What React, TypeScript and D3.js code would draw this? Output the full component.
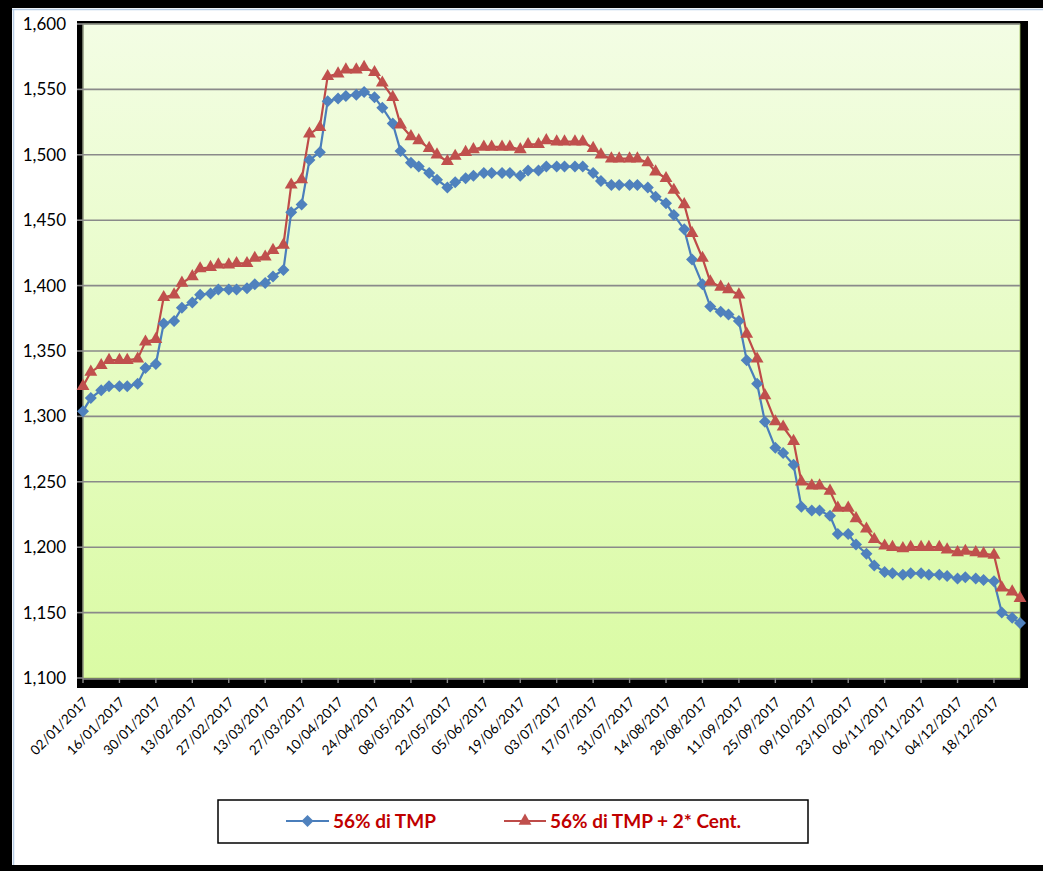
import React from 'react';
import * as d3 from 'd3';

// Mondays and Thursdays of 2017
const dates = [
  '02/01/2017', '05/01/2017', '09/01/2017', '12/01/2017', '16/01/2017', '19/01/2017', '23/01/2017', '26/01/2017', '30/01/2017',
  '02/02/2017', '06/02/2017', '09/02/2017', '13/02/2017', '16/02/2017', '20/02/2017', '23/02/2017', '27/02/2017',
  '02/03/2017', '06/03/2017', '09/03/2017', '13/03/2017', '16/03/2017', '20/03/2017', '23/03/2017', '27/03/2017', '30/03/2017',
  '03/04/2017', '06/04/2017', '10/04/2017', '13/04/2017', '17/04/2017', '20/04/2017', '24/04/2017', '27/04/2017',
  '01/05/2017', '04/05/2017', '08/05/2017', '11/05/2017', '15/05/2017', '18/05/2017', '22/05/2017', '25/05/2017', '29/05/2017',
  '01/06/2017', '05/06/2017', '08/06/2017', '12/06/2017', '15/06/2017', '19/06/2017', '22/06/2017', '26/06/2017', '29/06/2017',
  '03/07/2017', '06/07/2017', '10/07/2017', '13/07/2017', '17/07/2017', '20/07/2017', '24/07/2017', '27/07/2017', '31/07/2017',
  '03/08/2017', '07/08/2017', '10/08/2017', '14/08/2017', '17/08/2017', '21/08/2017', '24/08/2017', '28/08/2017', '31/08/2017',
  '04/09/2017', '07/09/2017', '11/09/2017', '14/09/2017', '18/09/2017', '21/09/2017', '25/09/2017', '28/09/2017',
  '02/10/2017', '05/10/2017', '09/10/2017', '12/10/2017', '16/10/2017', '19/10/2017', '23/10/2017', '26/10/2017', '30/10/2017',
  '02/11/2017', '06/11/2017', '09/11/2017', '13/11/2017', '16/11/2017', '20/11/2017', '23/11/2017', '27/11/2017', '30/11/2017',
  '04/12/2017', '07/12/2017', '11/12/2017', '14/12/2017', '18/12/2017', '21/12/2017', '25/12/2017', '28/12/2017',
];

const tmp56 = [
  1304, 1314, 1320, 1323, 1323, 1323, 1325, 1337, 1340,
  1371, 1373, 1383, 1387, 1393, 1394, 1397, 1397,
  1397, 1398, 1401, 1402, 1407, 1412, 1456, 1462, 1496,
  1502, 1541, 1543, 1545, 1546, 1548, 1544, 1536,
  1524, 1503, 1494, 1491, 1486, 1481, 1475, 1479, 1482,
  1484, 1486, 1486, 1486, 1486, 1484, 1488, 1488, 1491,
  1491, 1491, 1491, 1491, 1486, 1480, 1477, 1477, 1477,
  1477, 1475, 1468, 1463, 1454, 1443, 1420, 1401, 1384,
  1380, 1378, 1373, 1343, 1325, 1296, 1276, 1272,
  1263, 1231, 1228, 1228, 1224, 1210, 1210, 1202, 1195,
  1186, 1181, 1180, 1179, 1180, 1180, 1179, 1179, 1178,
  1176, 1177, 1176, 1175, 1174, 1150, 1146, 1142,
];

const tmp56Cent = [
  1323, 1334, 1339, 1343, 1343, 1343, 1344, 1357, 1359,
  1391, 1393, 1402, 1407, 1413, 1414, 1416, 1416,
  1417, 1417, 1421, 1422, 1427, 1431, 1477, 1481, 1516,
  1521, 1560, 1562, 1565, 1565, 1567, 1563, 1555,
  1544, 1523, 1514, 1511, 1505, 1500, 1495, 1499, 1502,
  1504, 1506, 1506, 1506, 1506, 1504, 1508, 1508, 1511,
  1510, 1510, 1510, 1510, 1505, 1500, 1497, 1497, 1497,
  1497, 1494, 1487, 1482, 1473, 1462, 1440, 1421, 1403,
  1399, 1397, 1393, 1363, 1344, 1316, 1296, 1292,
  1281, 1250, 1247, 1247, 1243, 1230, 1230, 1222, 1214,
  1206, 1201, 1200, 1199, 1200, 1200, 1200, 1200, 1198,
  1196, 1197, 1196, 1195, 1194, 1169, 1166, 1161,
];

const xTickLabels = [
  '02/01/2017', '16/01/2017', '30/01/2017', '13/02/2017', '27/02/2017', '13/03/2017', '27/03/2017',
  '10/04/2017', '24/04/2017', '08/05/2017', '22/05/2017', '05/06/2017', '19/06/2017', '03/07/2017',
  '17/07/2017', '31/07/2017', '14/08/2017', '28/08/2017', '11/09/2017', '25/09/2017', '09/10/2017',
  '23/10/2017', '06/11/2017', '20/11/2017', '04/12/2017', '18/12/2017',
];

const yTicks = [1100, 1150, 1200, 1250, 1300, 1350, 1400, 1450, 1500, 1550, 1600];

const seriesNames = ['56% di TMP', '56% di TMP + 2* Cent.'];

const W = 1043;
const H = 871;
const plot = { left: 83, top: 24, right: 1020, bottom: 678 };
const BLUE = '#4f81bd';
const BLUE_LINE = '#4a7ebb';
const RED = '#c0504d';
const RED_LINE = '#be4b48';
const FONT = 'Lato, "Open Sans", sans-serif';

const parse = d3.timeParse('%d/%m/%Y');
const fmtY = d3.format(',');

const diamond = (r: number) => `M0,${-r}L${r},0L0,${r}L${-r},0Z`;
const triangle = d3.symbol(d3.symbolTriangle, 72)();

export default function App() {
  const dayPts = dates.map((d) => parse(d) as Date);
  const x = d3.scaleTime()
    .domain([dayPts[0], dayPts[dayPts.length - 1]])
    .range([plot.left, plot.right]);
  const y = d3.scaleLinear().domain([1100, 1600]).range([plot.bottom, plot.top]);

  const line = d3.line<number>()
    .x((_, i) => x(dayPts[i]))
    .y((v) => y(v));

  const legendY = 821;

  return (
    <svg width={W} height={H} style={{ position: 'absolute', left: 0, top: 0 }} fontFamily={FONT}>
      <defs>
        <linearGradient id="plotBg" x1="0" y1="0" x2="0" y2="1">
          <stop offset="0%" stopColor="#f3fde4" />
          <stop offset="100%" stopColor="#dafba4" />
        </linearGradient>
      </defs>

      {/* chart area frame */}
      <rect x={0} y={0} width={W} height={H} fill="#fff" />
      <rect x={0} y={0} width={W} height={8} fill="#000" />
      <rect x={0} y={0} width={12} height={H} fill="#000" />
      <rect x={0} y={H - 6} width={W} height={6} fill="#000" />
      <line x1={13.5} y1={9} x2={13.5} y2={H - 6} stroke="#b9cde5" strokeWidth={1.5} />
      <line x1={12} y1={9.5} x2={W} y2={9.5} stroke="#b9cde5" strokeWidth={1.5} />

      {/* plot area */}
      <rect x={77} y={21} width={plot.right - 77 + 8} height={688 - 21} fill="#000" />
      <rect x={plot.left} y={plot.top} width={plot.right - plot.left} height={plot.bottom - plot.top}
        fill="url(#plotBg)" stroke="#9bbb59" strokeWidth={0.8} />

      {yTicks.map((t) => (
        <g key={t}>
          {t > 1100 && (
            <line x1={plot.left} x2={plot.right} y1={y(t)} y2={y(t)} stroke="#8a8a8a" strokeWidth={1.6} />
          )}
          <line x1={77} x2={plot.left} y1={y(t)} y2={y(t)} stroke="#8a8a8a" strokeWidth={1.6} />
          <text x={66} y={y(t)} dy="0.35em" textAnchor="end" fontSize={17} fill="#000">
            {fmtY(t)}
          </text>
        </g>
      ))}

      {/* axes lines */}
      <line x1={plot.left} x2={plot.left} y1={plot.top} y2={plot.bottom} stroke="#8a8a8a" strokeWidth={1.2} />
      <line x1={plot.left} x2={plot.right} y1={plot.bottom + 1} y2={plot.bottom + 1} stroke="#8a8a8a" strokeWidth={1.6} />

      {xTickLabels.map((lbl) => {
        const px = x(parse(lbl) as Date);
        return (
          <g key={lbl}>
            <line x1={px} x2={px} y1={plot.bottom} y2={plot.bottom + 5} stroke="#8a8a8a" strokeWidth={1.4} />
            <text transform={`translate(${px + 6},${plot.bottom + 25}) rotate(-45)`} textAnchor="end"
              fontSize={13.5} fill="#000">
              {lbl}
            </text>
          </g>
        );
      })}

      {/* series */}
      <path d={line(tmp56) || ''} fill="none" stroke={BLUE_LINE} strokeWidth={2.2} />
      <path d={line(tmp56Cent) || ''} fill="none" stroke={RED_LINE} strokeWidth={2.2} />
      {tmp56.map((v, i) => (
        <path key={'b' + i} d={diamond(6)} transform={`translate(${x(dayPts[i])},${y(v)})`} fill={BLUE} />
      ))}
      {tmp56Cent.map((v, i) => (
        <path key={'r' + i} d={triangle || ''} transform={`translate(${x(dayPts[i])},${y(v)})`} fill={RED} />
      ))}

      {/* legend */}
      <rect x={218} y={800} width={590} height={43} fill="#fff" stroke="#000" strokeWidth={1.5} />
      <line x1={286} x2={329} y1={legendY} y2={legendY} stroke={BLUE_LINE} strokeWidth={2.2} />
      <path d={diamond(6)} transform={`translate(307.5,${legendY})`} fill={BLUE} />
      <text x={333} y={legendY} dy="0.35em" fontSize={19} fontWeight="bold" fill="#c00000">{seriesNames[0]}</text>
      <line x1={504} x2={546} y1={legendY} y2={legendY} stroke={RED_LINE} strokeWidth={2.2} />
      <path d={triangle || ''} transform={`translate(525,${legendY})`} fill={RED} />
      <text x={550} y={legendY} dy="0.35em" fontSize={19} fontWeight="bold" fill="#c00000">{seriesNames[1]}</text>
    </svg>
  );
}
